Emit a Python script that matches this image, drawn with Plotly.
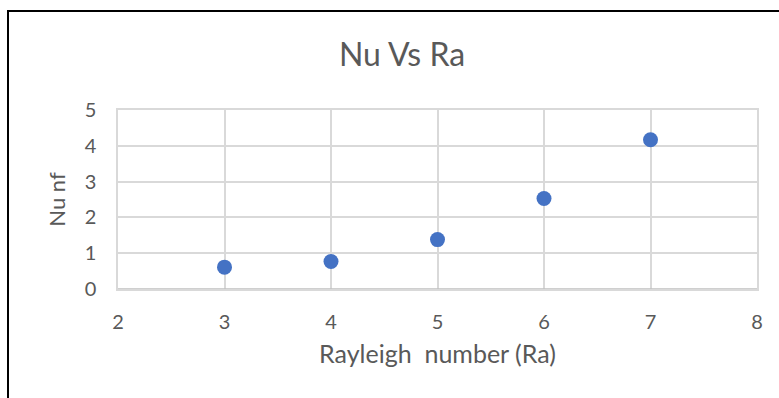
import plotly.graph_objects as go

# Rayleigh number vs Nusselt number (nanofluid)
ra_values = [3, 4, 5, 6, 7]
nu_nf_values = [0.61, 0.77, 1.38, 2.53, 4.17]

chart_title = "Nu Vs Ra"
x_title = "Rayleigh  number (Ra)"
y_title = "Nu nf"

text_color = "#595959"
grid_color = "#d9d9d9"
font_family = "Lato, 'Open Sans', sans-serif"

fig = go.Figure(
    go.Scatter(
        x=ra_values,
        y=nu_nf_values,
        mode="markers",
        marker=dict(color="#4472C4", size=15, line=dict(width=0)),
        hoverinfo="x+y",
    )
)

fig.update_layout(
    width=779,
    height=398,
    margin=dict(l=118, r=22, t=110, b=109),
    paper_bgcolor="white",
    plot_bgcolor="white",
    showlegend=False,
    font=dict(family=font_family, color=text_color),
    title=dict(
        text=chart_title,
        x=402 / 779,
        xanchor="center",
        xref="container",
        y=1 - 55 / 398,
        yanchor="middle",
        yref="container",
        font=dict(size=32, color=text_color, family=font_family),
    ),
    xaxis=dict(
        range=[2, 8],
        dtick=1,
        tick0=2,
        showgrid=True,
        gridcolor=grid_color,
        gridwidth=1.5,
        showline=True,
        linecolor=grid_color,
        linewidth=1.5,
        mirror=True,
        zeroline=False,
        ticks="outside",
        ticklen=14,
        tickcolor="rgba(0,0,0,0)",
        tickfont=dict(size=20, color=text_color),
        title=dict(text=x_title, font=dict(size=25, color=text_color), standoff=14),
    ),
    yaxis=dict(
        range=[0, 5],
        dtick=1,
        showgrid=True,
        gridcolor=grid_color,
        gridwidth=1.5,
        showline=True,
        linecolor=grid_color,
        linewidth=1.5,
        mirror=True,
        zeroline=False,
        ticks="outside",
        ticklen=16,
        tickcolor="rgba(0,0,0,0)",
        tickfont=dict(size=20, color=text_color),
        title=dict(text=y_title, font=dict(size=22, color=text_color), standoff=13),
    ),
    shapes=[
        # darker baseline along the category axis
        dict(type="line", xref="paper", yref="y", x0=0, x1=1, y0=0, y1=0,
             line=dict(color="#bfbfbf", width=1.5)),
        # outer chart frame
        dict(type="rect", xref="paper", yref="paper",
             x0=(8 - 118) / 639, x1=1.2, y0=-1.0, y1=(289 - 11) / 179,
             line=dict(color="black", width=2), fillcolor="rgba(0,0,0,0)",
             layer="below"),
    ],
)

fig.write_html("out.html")
